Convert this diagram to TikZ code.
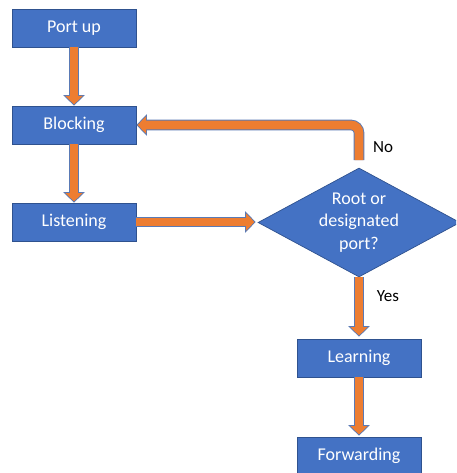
\documentclass[tikz,border=0pt]{standalone}
\usepackage{fontspec}
\setmainfont{Carlito}
\usetikzlibrary{arrows.meta,shapes.geometric}

\definecolor{boxblue}{HTML}{4472C4}
\definecolor{boxedge}{HTML}{2F528F}
\definecolor{flowfill}{HTML}{ED7D31}
\definecolor{flowedge}{HTML}{5A7AB5}

\tikzset{
  state/.style={rectangle, fill=boxblue, draw=boxedge, line width=0.7pt,
    minimum width=124pt, minimum height=38pt, inner sep=0pt,
    text=white, font=\fontsize{18}{22.5}\selectfont},
  decision/.style={diamond, fill=boxblue, draw=boxedge, line width=0.7pt,
    minimum width=202pt, minimum height=109pt, aspect=1.853, inner sep=0pt,
    text=white, align=center, font=\fontsize{18}{22.5}\selectfont},
  tag/.style={text=black, font=\fontsize{17}{20}\selectfont, inner sep=0pt},
  % block arrow: outline pass underneath, orange pass on top
  flowout/.style={draw=flowedge, line width=10.6pt,
    -{Triangle[length=10.5pt,width=21pt]}},
  flowin/.style={draw=flowfill, line width=8.8pt,
    -{Triangle[length=8.4pt,width=17pt]}},
}
% #1 = gap left before the target, #2 = extra path options, #3 = path
\newcommand\blockarrow[3][0pt]{%
  \draw[flowout, shorten >=#1, #2] #3;
  \draw[flowin, shorten >=#1+1.25pt, #2] #3;
}

\begin{document}
\begin{tikzpicture}[x=1pt,y=-1pt]
  \useasboundingbox (0,0) rectangle (456,473);
  \clip (0,0) rectangle (456,473);

  % states
  \node[state] (pu)  at (74,28)  {Port up};
  \node[state] (blk) at (74,125) {Blocking};
  \node[state] (lis) at (74,222) {Listening};
  \node[decision] (dec) at (359,222.5) {Root or\\designated\\port?};
  \node[state] (lrn) at (359,358) {Learning};
  \node[state] (fwd) at (359,456) {Forwarding};

  % loop start just above the decision
  \coordinate (back) at (359,160);

  % connectors
  \blockarrow{}{(pu.south) -- (blk.north)}
  \blockarrow{}{(blk.south) -- (lis.north)}
  \blockarrow[2pt]{}{(lis.east) -- (lis.east -| dec.west)}
  \blockarrow{rounded corners=8pt}{(back) |- (blk.east)}
  \blockarrow[2pt]{}{(dec.south) -- (lrn.north)}
  \blockarrow[1pt]{}{(lrn.south) -- (fwd.north)}

  % branch labels
  \node[tag] (no)  at (383,147) {No};
  \node[tag] (yes) at (388,296) {Yes};
\end{tikzpicture}
\end{document}
